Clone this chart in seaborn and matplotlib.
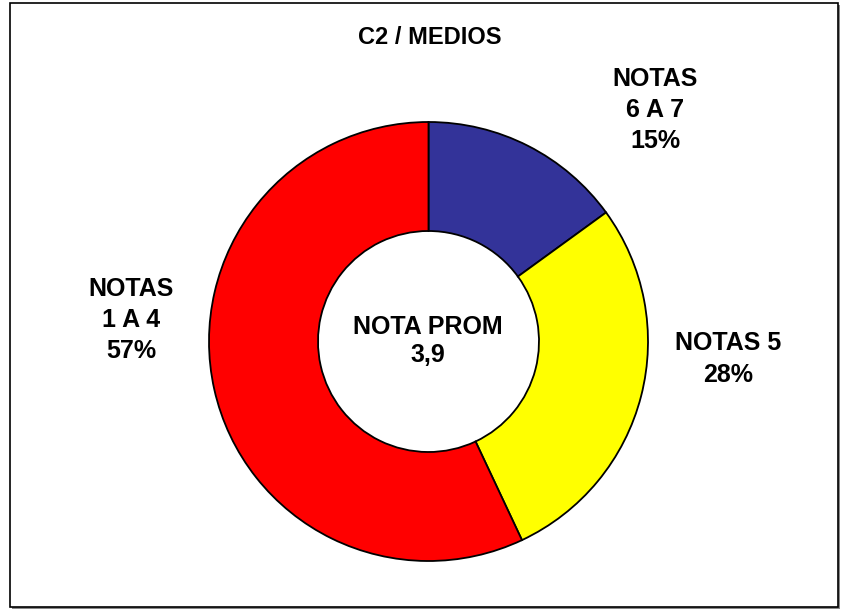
import matplotlib
matplotlib.use("Agg")
import matplotlib.pyplot as plt
import seaborn as sns
from matplotlib.patches import Rectangle

# data
categories = ["NOTAS\n6 A 7", "NOTAS 5", "NOTAS\n1 A 4"]
shares = [15, 28, 57]
colors = ["#333399", "#FFFF00", "#FF0000"]
title = "C2 / MEDIOS"
center_label = "NOTA PROM\n3,9"

sns.set_theme(style="white")
plt.rcParams["font.family"] = ["Liberation Sans", "DejaVu Sans"]
plt.rcParams["text.color"] = "black"

fig = plt.figure(figsize=(8.48, 6.10), dpi=100)
ax = fig.add_axes([0, 0, 1, 1])

wedges, _ = ax.pie(
    shares, colors=colors, startangle=90, counterclock=False,
    center=(428.5, 268.5), radius=219.5, frame=True,
    wedgeprops=dict(width=109, edgecolor="black", linewidth=1.3),
)
ax.set_xlim(0, 848)
ax.set_ylim(0, 610)
ax.set_axis_off()

# outer frame with a small shadow
ax.add_patch(Rectangle((12, 1), 828, 604, facecolor="#888888", edgecolor="none", zorder=0))
ax.add_patch(Rectangle((10, 3), 828, 604, facecolor="white", edgecolor="black", linewidth=1.2, zorder=0.5))

ax.text(430, 572, title, ha="center", va="center", fontsize=17, fontweight="bold", color="black")

labels = [categories[i] + "\n" + str(shares[i]) + "%" for i in range(3)]
kw = dict(ha="center", va="center", fontsize=18, fontweight="bold", color="black")
ax.text(655, 500, labels[0], linespacing=1.35, **kw)
ax.text(728, 251, labels[1], linespacing=1.45, **kw)
ax.text(131, 290, labels[2], linespacing=1.35, **kw)
ax.text(428, 269, center_label, linespacing=1.2, **kw)

fig.savefig("out.png", dpi=100)
